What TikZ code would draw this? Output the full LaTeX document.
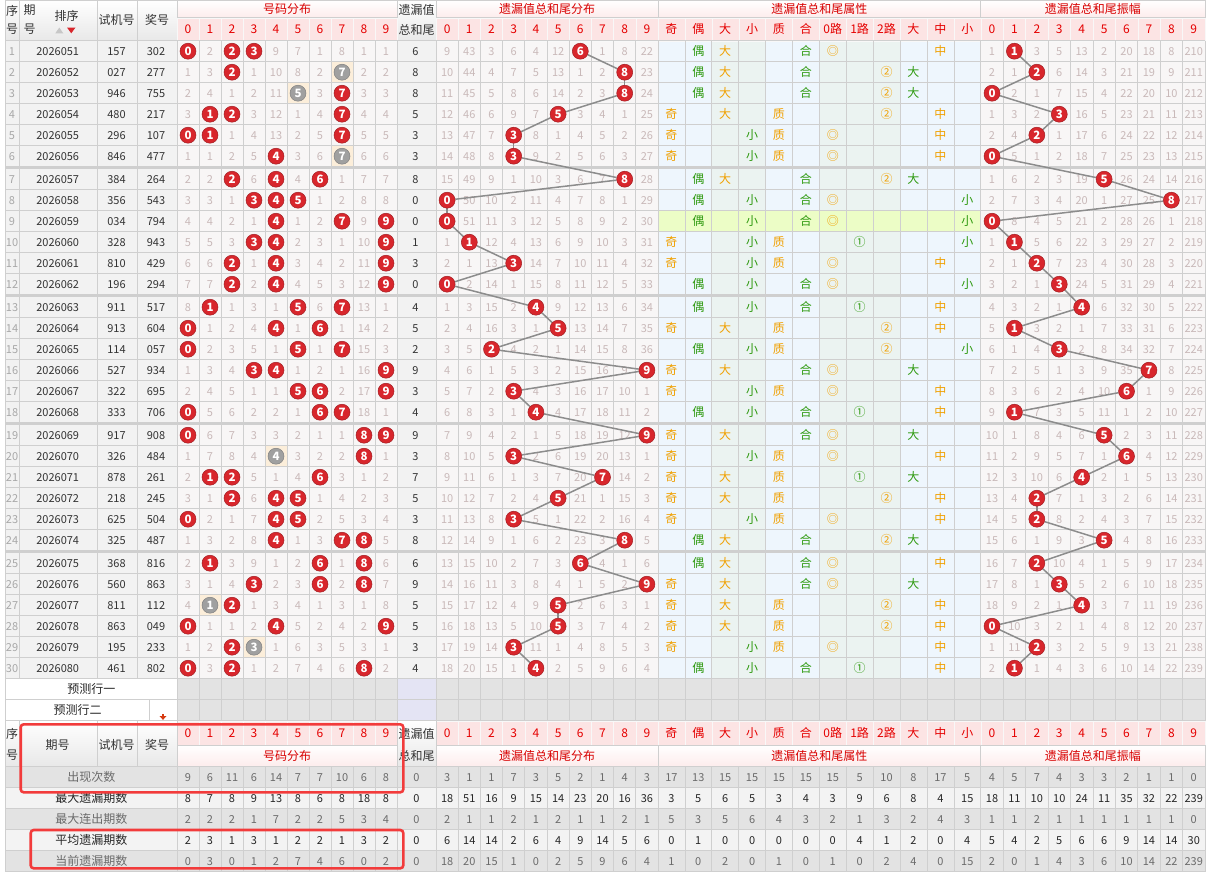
\documentclass[tikz,border=0pt]{standalone}
\usepackage{fontspec}
\setmainfont{Noto Sans CJK SC}

\pgfdeclarelayer{bg}
\pgfdeclarelayer{lines}
\pgfdeclarelayer{balls}
\pgfsetlayers{bg,main,lines,balls}

\definecolor{gridc}{HTML}{CFCFCF}
\definecolor{cellw}{HTML}{F8F6F6}
\definecolor{cellg}{HTML}{F2F2F2}
\definecolor{attb}{HTML}{EEF6FD}
\definecolor{attg}{HTML}{EBF3F1}
\definecolor{misst}{HTML}{C9B9B9}
\definecolor{ballred}{HTML}{D8262C}
\definecolor{ballgray}{HTML}{A0A0A0}
\definecolor{beige}{HTML}{FCEEDA}
\definecolor{hlrow}{HTML}{ECFDC6}
\definecolor{hdred}{HTML}{D80000}
\definecolor{hdpink}{HTML}{FCE4E4}
\definecolor{orng}{HTML}{F0A000}
\definecolor{grn}{HTML}{2F9A10}
\definecolor{statg}{HTML}{E3E3E3}
\definecolor{statw}{HTML}{F3F3F3}
\definecolor{predg}{HTML}{E3E3E3}
\definecolor{predl}{HTML}{E4E4F4}
\definecolor{boxred}{HTML}{F23B3B}
\definecolor{linec}{HTML}{8C8C8C}
\definecolor{seqc}{HTML}{A8A8A8}
\definecolor{arrowc}{HTML}{D63A12}

\newcommand\splitprize[3]{\gdef\dga{#1}\gdef\dgb{#2}\gdef\dgc{#3}}
% column borders
\newcommand\vlist{5.7,19,97,137,177,199,221,243,265,287,309,331,353,375,397,436,458.2,480.4,502.6,524.8,547,569.2,591.4,613.6,635.8,658,684.9,711.8,738.7,765.6,792.5,819.4,846.3,873.2,900.1,927,953.9,980.8,1003.2,1025.6,1048.1,1070.5,1092.9,1115.3,1137.7,1160.2,1182.6,1205}
\newcommand\vlistR{177,199,221,243,265,287,309,331,353,375,397,436,458.2,480.4,502.6,524.8,547,569.2,591.4,613.6,635.8,658,684.9,711.8,738.7,765.6,792.5,819.4,846.3,873.2,900.1,927,953.9,980.8,1003.2,1025.6,1048.1,1070.5,1092.9,1115.3,1137.7,1160.2,1182.6,1205}

\tikzset{
  ball/.style={circle, fill=ballred, draw=ballred!75!black, line width=0.5pt, inner sep=0pt,
    minimum size=16pt, text=white, font=\fontsize{11.5}{11.5}\selectfont\bfseries},
  dupball/.style={ball, fill=ballgray, draw=ballgray!80!black},
  missno/.style={text=misst, inner sep=0pt, font=\fontsize{11}{11}\selectfont},
  plain/.style={text=black!80, inner sep=0pt, font=\fontsize{11}{11}\selectfont},
  seqno/.style={plain, text=seqc},
  hdtxt/.style={text=black!80, inner sep=0pt, font=\fontsize{12}{12}\selectfont},
  hdred/.style={hdtxt, text=hdred},
  hddig/.style={hdtxt, text=red!90!black},
  attor/.style={hdtxt, text=orng},
  attgr/.style={hdtxt, text=grn},
  statlbl/.style={hdtxt},
  statno/.style={plain},
  link/.style={draw=linec, line width=1.5pt},
  gridln/.style={draw=gridc, line width=0.8pt},
  sepln/.style={draw=gridc, line width=2.6pt},
  predbox/.style={draw=gridc, fill=white, line width=0.8pt, inner sep=0pt, minimum height=21pt,
    font=\fontsize{12}{12}\selectfont, text=black!85},
  redbox/.style={draw=boxred, line width=2.6pt, rounded corners=3pt},
}

\begin{document}
\begin{tikzpicture}[x=1pt,y=-1pt]
\useasboundingbox (0,0) rectangle (1207,873);

% ---------- top header ----------
\foreach \xa/\xb in {5.7/19,19/97,97/137,137/177,397/436}
  \shadedraw[top color=white, bottom color=black!9, draw=gridc, line width=0.8pt] (\xa,0) rectangle (\xb,40.7);
\foreach \xa/\xb in {177/397,436/658,658/980.8,980.8/1205}
  \shadedraw[top color=white, bottom color=hdpink!70, draw=gridc, line width=0.8pt] (\xa,0) rectangle (\xb,17.7);
\node[hdtxt] (hxu1) at (12,10.5) {序};
\node[hdtxt] (hxu2) at (12,29.5) {号};
\node[hdtxt] (hqi1) at (29.7,10.5) {期};
\node[hdtxt] (hqi2) at (29.7,29.5) {号};
\node[hdtxt] (hpx) at (66.7,15.7) {排序};
\fill[black!22] (55.3,33.3) -- (63.3,33.3) -- (59.3,27.5) -- cycle;
\fill[ballred] (67,27.5) -- (75.5,27.5) -- (71.25,33.3) -- cycle;
\node[hdtxt] (hsj) at (116.7,19.5) {试机号};
\node[hdtxt] (hkj) at (157,19.5) {奖号};
\node[hdtxt] (hwh1) at (416.5,9.5) {遗漏值};
\node[hdtxt] (hwh2) at (416.5,29.5) {总和尾};
\node[hdred] (ht1) at (287,8.5) {号码分布};
\node[hdred] (ht2) at (547,8.5) {遗漏值总和尾分布};
\node[hdred] (ht3) at (819.4,8.5) {遗漏值总和尾属性};
\node[hdred] (ht4) at (1092.9,8.5) {遗漏值总和尾振幅};

% digit header rows (top and bottom)
\foreach \ya/\hy/\yt [count=\hh] in {17.7/23/29.2,720.7/24.3/733} {
  \foreach \d in {0,...,9} {
    \filldraw[fill=hdpink, draw=white!85!gridc] ({177+22*\d},\ya) rectangle ++(22,\hy);
    \node[hddig] (hn\hh-\d) at ({188+22*\d},\yt) {\d};
    \filldraw[fill=hdpink, draw=white!85!gridc] ({436+22.2*\d},\ya) rectangle ++(22.2,\hy);
    \node[hddig] (ht\hh-\d) at ({447.1+22.2*\d},\yt) {\d};
    \filldraw[fill=hdpink, draw=white!85!gridc] ({980.8+22.42*\d},\ya) rectangle ++(22.42,\hy);
    \node[hddig] (hm\hh-\d) at ({992+22.42*\d},\yt) {\d};
  }
  \foreach \a [count=\i from 0] in {奇,偶,大,小,质,合,0路,1路,2路,大,中,小} {
    \filldraw[fill=hdpink, draw=white!85!gridc] ({658+26.9*\i},\ya) rectangle ++(26.9,\hy);
    \node[hddig] (ha\hh-\i) at ({671.35+26.9*\i},\yt) {\a};
  }
}

% ---------- data area ----------
\begin{pgfonlayer}{bg}
\foreach \g in {0,...,4} {
  \pgfmathsetmacro\ya{40.7+128*\g}
  \fill[cellg] (5.7,\ya) rectangle (177,\ya+126);
  \fill[cellw] (177,\ya) rectangle (397,\ya+126);
  \fill[cellg] (397,\ya) rectangle (436,\ya+126);
  \fill[cellw] (436,\ya) rectangle (658,\ya+126);
  \fill[attb] (658,\ya) rectangle (980.8,\ya+126);
  \fill[attg] (711.8,\ya) rectangle (765.6,\ya+126);
  \fill[attg] (819.4,\ya) rectangle (900.1,\ya+126);
  \fill[cellw] (980.8,\ya) rectangle (1205,\ya+126);
}
\fill[hlrow] (658,210.7) rectangle (980.8,231.7);
\end{pgfonlayer}

% grid
\foreach \r in {0,...,29} {
  \pgfmathsetmacro\yr{40.7+128*int(\r/6)+21*mod(\r,6)}
  \draw[gridln] (5.7,\yr) -- (1205,\yr);
}
\draw[gridln] (5.7,678.7) -- (1205,678.7);
\foreach \x in \vlist
  \draw[gridln] (\x,40.7) -- (\x,678.7);
\foreach \g in {1,...,4}
  \draw[sepln] (5.7,{40.7+128*\g-1.2}) -- (1205,{40.7+128*\g-1.2});

% counters before the first row
\foreach \d/\v in {0/0,1/1,2/0,3/0,4/8,5/6,6/0,7/7,8/0,9/0}
  {\expandafter\xdef\csname nd\d\endcsname{\v}}
\foreach \d/\v in {0/8,1/42,2/2,3/5,4/3,5/11,6/0,7/0,8/7,9/21}
  {\expandafter\xdef\csname td\d\endcsname{\v}}
\foreach \d/\v in {0/0,1/0,2/2,3/4,4/12,5/1,6/19,7/17,8/7,9/209}
  {\expandafter\xdef\csname am\d\endcsname{\v}}
\xdef\prevt{5}

% rows: trial number / prize number / tail
\foreach \sjh/\kjh/\wh [count=\r] in {157/302/6,027/277/8,946/755/8,480/217/5,296/107/3,846/477/3,
  384/264/8,356/543/0,034/794/0,328/943/1,810/429/3,196/294/0,
  911/517/4,913/604/5,114/057/2,527/934/9,322/695/3,333/706/4,
  917/908/9,326/484/3,878/261/7,218/245/5,625/504/3,325/487/8,
  368/816/6,560/863/9,811/112/5,863/049/5,195/233/3,461/802/4} {
  \pgfmathsetmacro\yc{40.7+128*int((\r-1)/6)+21*mod(\r-1,6)+10.5}
  \node[seqno] (s\r) at (12,\yc) {\r};
  \node[plain] (q\r) at (57.7,\yc) {\the\numexpr2026050+\r\relax};
  \node[plain] (j\r) at (116.5,\yc) {\sjh};
  \node[plain] (p\r) at (156,\yc) {\kjh};
  \node[plain] (w\r) at (415.5,\yc) {\wh};
  % number distribution
  \expandafter\splitprize\kjh
  \foreach \d in {0,...,9} {
    \pgfmathtruncatemacro\occ{(\dga==\d)+(\dgb==\d)+(\dgc==\d)}
    \ifnum\occ>0
      \ifnum\occ>1
        \begin{pgfonlayer}{bg}\fill[beige] ({177+22*\d},\yc-10.5) rectangle ++(22,21);\end{pgfonlayer}
        \begin{pgfonlayer}{balls}\node[dupball] (n\r-\d) at ({188+22*\d},\yc) {\d};\end{pgfonlayer}
      \else
        \begin{pgfonlayer}{balls}\node[ball] (n\r-\d) at ({188+22*\d},\yc) {\d};\end{pgfonlayer}
      \fi
      \expandafter\xdef\csname nd\d\endcsname{0}
    \else
      \edef\oldv{\csname nd\d\endcsname}
      \pgfmathtruncatemacro\nv{\oldv+1}
      \expandafter\xdef\csname nd\d\endcsname{\nv}
      \node[missno] (n\r-\d) at ({188+22*\d},\yc) {\nv};
    \fi
  }
  % tail distribution
  \foreach \d in {0,...,9} {
    \ifnum\d=\wh
      \begin{pgfonlayer}{balls}\node[ball] (t\r) at ({447.1+22.2*\d},\yc) {\d};\end{pgfonlayer}
      \expandafter\xdef\csname td\d\endcsname{0}
    \else
      \edef\oldv{\csname td\d\endcsname}
      \pgfmathtruncatemacro\nv{\oldv+1}
      \expandafter\xdef\csname td\d\endcsname{\nv}
      \node[missno] (t\r-\d) at ({447.1+22.2*\d},\yc) {\nv};
    \fi
  }
  % attributes
  \pgfmathtruncatemacro\wodd{mod(\wh,2)}
  \pgfmathtruncatemacro\wprm{(\wh==1)+(\wh==2)+(\wh==3)+(\wh==5)+(\wh==7)}
  \pgfmathtruncatemacro\wrd{mod(\wh,3)}
  \ifnum\wodd=1 \node[attor] (ap\r) at (671.35,\yc) {奇};\else \node[attgr] (ap\r) at (698.25,\yc) {偶};\fi
  \ifnum\wh>4 \node[attor] (as\r) at (725.15,\yc) {大};\else \node[attgr] (as\r) at (752.05,\yc) {小};\fi
  \ifnum\wprm=1 \node[attor] (aq\r) at (778.95,\yc) {质};\else \node[attgr] (aq\r) at (805.85,\yc) {合};\fi
  \ifcase\wrd\relax \node[attor] (ar\r) at (832.75,\yc) {◎};\or \node[attgr] (ar\r) at (859.65,\yc) {①};\or \node[attor] (ar\r) at (886.55,\yc) {②};\fi
  \ifnum\wh>6 \node[attgr] (az\r) at (913.45,\yc) {大};\else\ifnum\wh>2 \node[attor] (az\r) at (940.35,\yc) {中};\else \node[attgr] (az\r) at (967.25,\yc) {小};\fi\fi
  % amplitude
  \pgfmathtruncatemacro\wamp{abs(\wh-\prevt)}
  \foreach \d in {0,...,9} {
    \ifnum\d=\wamp
      \begin{pgfonlayer}{balls}\node[ball] (a\r) at ({992+22.42*\d},\yc) {\d};\end{pgfonlayer}
      \expandafter\xdef\csname am\d\endcsname{0}
    \else
      \edef\oldv{\csname am\d\endcsname}
      \pgfmathtruncatemacro\nv{\oldv+1}
      \expandafter\xdef\csname am\d\endcsname{\nv}
      \node[missno] (a\r-\d) at ({992+22.42*\d},\yc) {\nv};
    \fi
  }
  \xdef\prevt{\wh}
}

% connectors
\begin{pgfonlayer}{lines}
\foreach \r [remember=\r as \lr (initially 1)] in {2,...,30} {
  \draw[link] (t\lr) -- (t\r);
  \draw[link] (a\lr) -- (a\r);
}
\end{pgfonlayer}

% ---------- prediction rows ----------
\fill[predg] (177,678.7) rectangle (1205,720.7);
\fill[predl] (397,678.7) rectangle (436,720.7);
\foreach \x in \vlistR
  \draw[gridln] (\x,678.7) -- (\x,720.7);
\draw[gridln] (177,699.7) -- (1205,699.7);
\draw[gridln] (5.7,720.7) -- (1205,720.7);
\node[predbox, minimum width=171.3pt] (yc1) at (91.35,689.2) {预测行一};
\node[predbox, minimum width=143.8pt] (yc2) at (77.6,710.2) {预测行二};
\node[predbox, minimum width=27.5pt] (yc3) at (163.25,710.2) {};
\fill[arrowc] (161.8,713.8) rectangle (164.2,716.4);
\fill[arrowc] (159.6,716.2) -- (166.4,716.2) -- (163,719.8) -- cycle;

% ---------- bottom header ----------
\foreach \xa/\xb in {5.7/19,19/97,97/137,137/177,397/436}
  \shadedraw[top color=white, bottom color=black!9, draw=gridc, line width=0.8pt] (\xa,720.7) rectangle (\xb,766.7);
\foreach \xa/\xb in {177/397,436/658,658/980.8,980.8/1205}
  \shadedraw[top color=white, bottom color=hdpink!70, draw=gridc, line width=0.8pt] (\xa,745) rectangle (\xb,766.7);
\node[hdtxt] (bxu1) at (12,733.5) {序};
\node[hdtxt] (bxu2) at (12,755.5) {号};
\node[hdtxt] (bqh) at (57.5,745) {期号};
\node[hdtxt] (bsj) at (116.7,745) {试机号};
\node[hdtxt] (bkj) at (157,745) {奖号};
\node[hdtxt] (bwh1) at (416.5,733.5) {遗漏值};
\node[hdtxt] (bwh2) at (416.5,755.5) {总和尾};
\node[hdred] (bt1) at (287,756) {号码分布};
\node[hdred] (bt2) at (547,756) {遗漏值总和尾分布};
\node[hdred] (bt3) at (819.4,756) {遗漏值总和尾属性};
\node[hdred] (bt4) at (1092.9,756) {遗漏值总和尾振幅};

% ---------- statistics ----------
\foreach \lbl/\vals [count=\j from 0] in {
  出现次数/{9,6,11,6,14,7,7,10,6,8,0,3,1,1,7,3,5,2,1,4,3,17,13,15,15,15,15,15,5,10,8,17,5,4,5,7,4,3,3,2,1,1,0},
  最大遗漏期数/{8,7,8,9,13,8,6,8,18,8,0,18,51,16,9,15,14,23,20,16,36,3,5,6,5,3,4,3,9,6,8,4,15,18,11,10,10,24,11,35,32,22,239},
  最大连出期数/{2,2,2,1,7,2,2,5,3,4,0,2,1,1,2,1,2,1,1,2,1,5,3,5,6,4,3,2,1,3,2,4,3,1,1,2,1,1,1,1,1,1,0},
  平均遗漏期数/{2,3,1,3,1,2,2,1,3,2,0,6,14,14,2,6,4,9,14,5,6,0,1,0,0,0,0,0,4,1,2,0,4,5,4,2,5,6,6,9,14,14,30},
  当前遗漏期数/{0,3,0,1,2,7,4,6,0,2,0,18,20,15,1,0,2,5,9,6,4,1,0,2,0,1,0,1,0,2,4,0,15,2,0,1,4,3,6,10,14,22,239}} {
  \pgfmathsetmacro\sy{766.7+21*\j}
  \ifodd\j \def\rowc{statw}\def\txc{black!85}\else \def\rowc{statg}\def\txc{black!58}\fi
  \begin{pgfonlayer}{bg}\fill[\rowc] (5.7,\sy) rectangle (1205,\sy+21);\end{pgfonlayer}
  \draw[gridln] (5.7,\sy+21) -- (1205,\sy+21);
  \node[statlbl, text=\txc] (sl\j) at (91.3,\sy+10.5) {\lbl};
  \foreach \v [count=\c from 0] in \vals {
    \ifnum\c<10 \pgfmathsetmacro\sx{188+22*\c}\else
    \ifnum\c=10 \def\sx{416.5}\else
    \ifnum\c<21 \pgfmathsetmacro\sx{447.1+22.2*(\c-11)}\else
    \ifnum\c<33 \pgfmathsetmacro\sx{671.35+26.9*(\c-21)}\else
    \pgfmathsetmacro\sx{992+22.42*(\c-33)}\fi\fi\fi\fi
    \node[statno, text=\txc] (sv\j-\c) at (\sx,\sy+10.5) {\v};
  }
}
\foreach \x in \vlistR
  \draw[gridln] (\x,766.7) -- (\x,871.7);
\draw[gridln] (5.7,766.7) -- (5.7,871.7);

% highlight boxes
\draw[redbox] (20.7,724.3) rectangle (403.3,792.3);
\draw[redbox] (30.7,830) rectangle (403.3,868.3);

\end{tikzpicture}
\end{document}
